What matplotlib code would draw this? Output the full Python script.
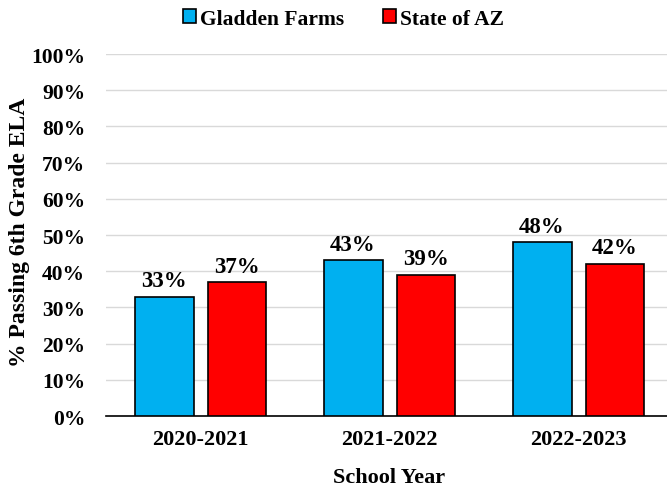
import numpy as np
import matplotlib.pyplot as plt
from matplotlib.ticker import PercentFormatter

years = ["2020-2021", "2021-2022", "2022-2023"]
gladden = [33, 43, 48]
state = [37, 39, 42]
series_names = ["Gladden Farms", "State of AZ"]

plt.rcParams['font.family'] = ['Liberation Serif', 'DejaVu Serif']
plt.rcParams['font.weight'] = 'bold'

fig = plt.figure(figsize=(6.67, 4.89), dpi=100)
ax = fig.add_axes([0.159, 0.1472, 0.85, 0.7403])

x = np.arange(len(years))
w = 0.312
off = 0.193
b1 = ax.bar(x - off, gladden, w, color='#00B0F0', edgecolor='black', linewidth=1.2,
            label=series_names[0], zorder=3)
b2 = ax.bar(x + off, state, w, color='#FF0000', edgecolor='black', linewidth=1.2,
            label=series_names[1], zorder=3)

for bars in (b1, b2):
    for r in bars:
        ax.annotate(f"{r.get_height():.0f}%", (r.get_x() + r.get_width() / 2, r.get_height()),
                    xytext=(0, 4), textcoords='offset points', ha='center', va='bottom',
                    fontsize=16.5, fontweight='bold')

ax.set_xlim(-0.5, 2.5)
ax.set_ylim(0, 100)
ax.set_yticks(np.arange(0, 101, 10))
ax.yaxis.set_major_formatter(PercentFormatter(decimals=0))
ax.set_xticks(x)
ax.set_xticklabels(years)
ax.tick_params(axis='x', length=0, labelsize=16, pad=9)
ax.tick_params(axis='y', length=0, labelsize=15.5, pad=15)
ax.grid(axis='y', color='#D9D9D9', linewidth=1, zorder=0)
for s in ['left', 'right', 'top']:
    ax.spines[s].set_visible(False)
ax.spines['bottom'].set_linewidth(1.2)

ax.set_xlabel("School Year", fontsize=16, fontweight='bold', labelpad=13)
ax.set_ylabel("% Passing 6th Grade ELA", fontsize=17, fontweight='bold')
ax.yaxis.set_label_coords(-0.135, 0.51)

fig.legend(handles=[b1, b2], loc='upper center', bbox_to_anchor=(0.515, 1.02), ncol=2,
           frameon=False, fontsize=15.5, handlelength=0.6, handleheight=0.6,
           handletextpad=0.2, columnspacing=1.8)

fig.savefig("out.png", dpi=100)
